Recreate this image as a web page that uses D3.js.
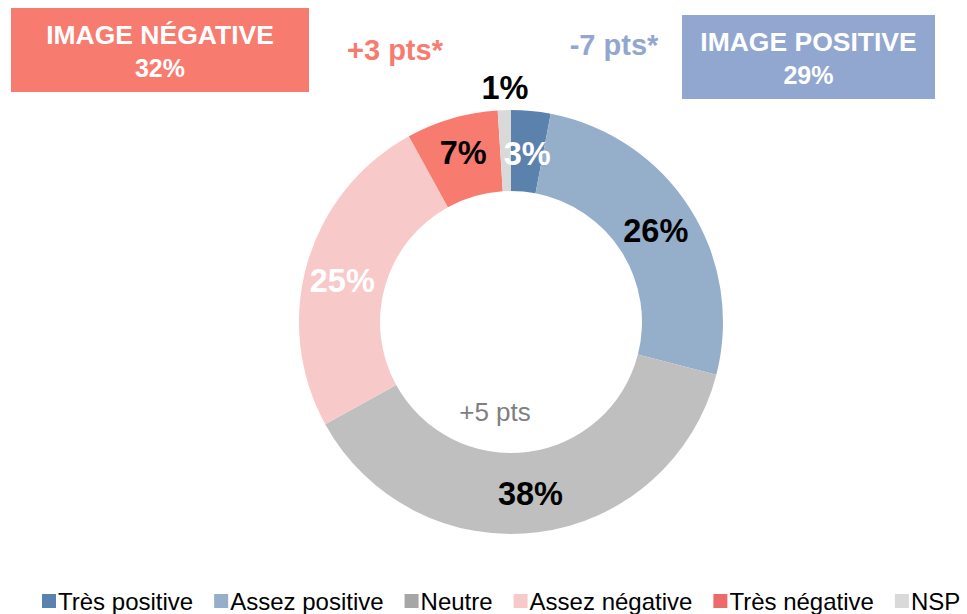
<!DOCTYPE html>
<html><head><meta charset="utf-8">
<script src="https://cdn.jsdelivr.net/npm/d3@7"></script>
<style>html,body{margin:0;padding:0;background:#fff;}svg{display:block;}</style>
</head><body>
<svg id="chart" width="967" height="614"></svg>
<script>
const categories = ["Très positive", "Assez positive", "Neutre", "Assez négative", "Très négative", "NSP"];
const values = [3, 26, 38, 25, 7, 1];
const sliceColors = ["#5b82ad", "#95aeca", "#bfbfbf", "#f8c9c9", "#f87b70", "#d9d9d9"];
const legendColors = ["#5a82ae", "#95aeca", "#a6a6a6", "#f8c9c9", "#ed6a6a", "#d9d9d9"];
const labelColors = ["#ffffff", "#000000", "#000000", "#ffffff", "#000000", "#000000"];
const summaryLabels = ["IMAGE NÉGATIVE", "IMAGE POSITIVE"];
const summaryValues = [32, 29];
const summaryChanges = ["+3 pts*", "-7 pts*"];
const neutralChange = "+5 pts";

const svg = d3.select("#chart");
const cx = 511, cy = 322, R = 212, r = 131;
const font = "'Liberation Sans', Arial, sans-serif";

const pie = d3.pie().sort(null).value(d => d)(values);
const arc = d3.arc().innerRadius(r).outerRadius(R);
const g = svg.append("g").attr("transform", `translate(${cx},${cy})`);
g.selectAll("path").data(pie).join("path")
  .attr("d", arc).attr("fill", (d, i) => sliceColors[i]);

// label positions: mid-ring radius, with manual tweaks for the tiny slices
const labelArc = d3.arc().innerRadius((r + R) / 2).outerRadius((r + R) / 2);
const offsets = [[0, 3], [0, 1], [-2, 2], [-4, 7], [0, -4], [0, 0]];
g.selectAll("text.lbl").data(pie).join("text")
  .attr("class", "lbl")
  .attr("transform", (d, i) => {
    let [x, y] = labelArc.centroid(d);
    if (i === 5) { x = -6; y = -R - 22; } // NSP label above the ring
    return `translate(${x + offsets[i][0]},${y + offsets[i][1]})`;
  })
  .attr("text-anchor", "middle").attr("dominant-baseline", "central")
  .attr("font-family", font).attr("font-weight", "bold").attr("font-size", 32.5)
  .attr("fill", (d, i) => labelColors[i])
  .text(d => d.data + "%");

g.append("text").attr("x", -16).attr("y", 90)
  .attr("text-anchor", "middle").attr("dominant-baseline", "central")
  .attr("font-family", font).attr("font-size", 26).attr("fill", "#7f7f7f")
  .text(neutralChange);

// summary boxes
const boxes = [
  {x: 11, y: 8, w: 298, h: 84, fill: "#f87b6f", cx: 395, cyc: 50, cc: "#f87b6f"},
  {x: 682, y: 15, w: 253, h: 84, fill: "#91a7d0", cx: 614, cyc: 45, cc: "#91a7d0"}
];
boxes.forEach((b, i) => {
  svg.append("rect").attr("x", b.x).attr("y", b.y).attr("width", b.w).attr("height", b.h).attr("fill", b.fill);
  svg.append("text").attr("x", b.x + b.w / 2).attr("y", b.y + 27)
    .attr("text-anchor", "middle").attr("dominant-baseline", "central")
    .attr("font-family", font).attr("font-weight", "bold").attr("font-size", 26.5).attr("fill", "#fff")
    .text(summaryLabels[i]);
  svg.append("text").attr("x", b.x + b.w / 2).attr("y", b.y + 60)
    .attr("text-anchor", "middle").attr("dominant-baseline", "central")
    .attr("font-family", font).attr("font-weight", "bold").attr("font-size", 25).attr("fill", "#fff")
    .text(summaryValues[i] + "%");
  svg.append("text").attr("x", b.cx).attr("y", b.cyc)
    .attr("text-anchor", "middle").attr("dominant-baseline", "central")
    .attr("font-family", font).attr("font-weight", "bold").attr("font-size", 29).attr("fill", b.cc)
    .text(summaryChanges[i]);
});

// legend
const lg = svg.append("g").attr("transform", "translate(42,601)");
let lx = 0;
categories.forEach((c, i) => {
  const it = lg.append("g").attr("transform", `translate(${lx},0)`);
  it.append("rect").attr("x", 0).attr("y", -7).attr("width", 14).attr("height", 14).attr("fill", legendColors[i]);
  const t = it.append("text").attr("x", 16).attr("y", 0).attr("dominant-baseline", "central")
    .attr("font-family", font).attr("font-size", 24).attr("fill", "#000").text(c);
  lx += 16 + t.node().getComputedTextLength() + 21;
});
</script>
</body></html>
